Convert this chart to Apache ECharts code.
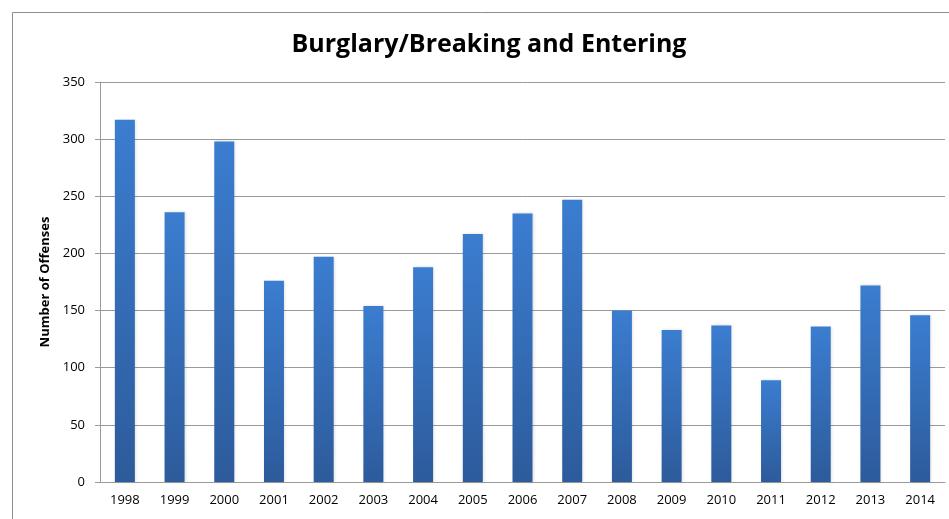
<!DOCTYPE html>
<html>
<head>
<meta charset="utf-8">
<script src="https://cdn.jsdelivr.net/npm/echarts@6/dist/echarts.min.js"></script>
<style>html,body{margin:0;padding:0;background:#fff}#c{width:949px;height:519px}</style>
</head>
<body>
<div id="c"></div>
<script>
const titleText = "Burglary/Breaking and Entering";
const yAxisName = "Number of Offenses";
const years = ["1998","1999","2000","2001","2002","2003","2004","2005","2006","2007","2008","2009","2010","2011","2012","2013","2014"];
const offenses = [317, 236, 298, 176, 197, 154, 188, 217, 235, 247, 150, 133, 137, 89, 136, 172, 146];
const yTicks = [0, 50, 100, 150, 200, 250, 300, 350];

const chart = echarts.init(document.getElementById('c'));
chart.setOption({
  animation: false,
  backgroundColor: '#fff',
  graphic: [{
    type: 'rect', silent: true,
    shape: { x: 12.5, y: 12.5, width: 1000, height: 1000 },
    style: { fill: 'none', stroke: '#8c8c8c', lineWidth: 1 }
  }],
  title: {
    text: titleText, left: 484, top: 27, textAlign: 'center',
    textStyle: { fontFamily: 'Open Sans', fontWeight: 'bold', fontSize: 25, color: '#000' }
  },
  grid: { left: 100, right: 4, top: 82, bottom: 37, containLabel: false },
  xAxis: {
    type: 'category', data: years,
    axisLine: { show: true, lineStyle: { color: '#9a9a9a' } },
    axisTick: { show: false },
    axisLabel: { fontFamily: 'Open Sans', fontSize: 13, color: '#000', margin: 12 }
  },
  yAxis: {
    type: 'value', min: yTicks[0], max: yTicks[yTicks.length - 1], interval: 50,
    name: yAxisName, nameLocation: 'middle', nameGap: 48, nameRotate: 90,
    nameTextStyle: { fontFamily: 'Open Sans', fontWeight: 'bold', fontSize: 13, color: '#000' },
    axisLine: { show: true, lineStyle: { color: '#9a9a9a' } },
    axisTick: { show: true, length: 5, inside: false, lineStyle: { color: '#9a9a9a' } },
    axisLabel: { fontFamily: 'Open Sans', fontSize: 13, color: '#000', margin: 15 },
    splitLine: { show: true, lineStyle: { color: '#9a9a9a', width: 1 } }
  },
  series: [{
    type: 'bar', data: offenses, barWidth: 20,
    itemStyle: {
      color: new echarts.graphic.LinearGradient(0, 0, 0, 1, [
        { offset: 0, color: '#3b7dd0' },
        { offset: 1, color: '#2d5b9b' }
      ]),
      shadowColor: 'rgba(0,0,0,0.15)', shadowBlur: 3, shadowOffsetX: 1
    }
  }]
});
</script>
</body>
</html>
